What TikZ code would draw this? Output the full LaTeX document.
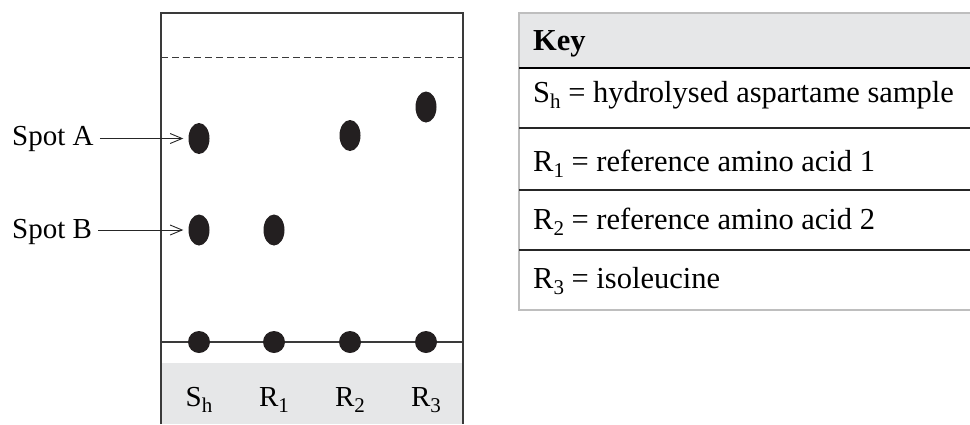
\documentclass[tikz,border=0pt]{standalone}
\usepackage{fontspec}
\setmainfont{Liberation Serif}
\usetikzlibrary{arrows.meta,shapes.geometric}
\definecolor{panelgray}{HTML}{E6E7E8}
\definecolor{platecol}{HTML}{3A3A3A}
\definecolor{spotcol}{HTML}{231F20}
\definecolor{keyborder}{HTML}{BEBEBE}
\newcommand\lowsub[1]{\raisebox{-6pt}{\fontsize{21}{21}\selectfont #1}}
\begin{document}
\begin{tikzpicture}[x=1pt,y=-1pt,
  every node/.style={font=\fontsize{29}{34}\selectfont},
  platebox/.style={draw=platecol,line width=1.6pt},
  spotdot/.style={ellipse,fill=spotcol,inner sep=0pt,minimum width=21pt,minimum height=31pt},
  basedot/.style={circle,fill=spotcol,inner sep=0pt,minimum size=22pt},
  lanelabel/.style={anchor=base,inner sep=0pt},
  spotlabel/.style={anchor=base west,inner sep=0pt},
  pointer/.style={draw=black!85,line width=0.9pt,-{Straight Barb[length=12pt,width=10pt,line width=0.9pt]},shorten <=6pt,shorten >=5pt},
  keytext/.style={anchor=base west,inner sep=0pt,font=\fontsize{30.5}{36}\selectfont},
  rowline/.style={draw=black!85,line width=1.2pt}]
\useasboundingbox (0,0) rectangle (970,424);
% plate
\fill[panelgray] (161,363) rectangle (463,424);
\draw[platebox] (161,424) -- (161,13) -- (463,13) -- (463,424);
\draw[platecol,line width=1.6pt,dash pattern=on 7pt off 4pt] (161,57.5) -- (463,57.5);
\draw[platecol,line width=1.3pt] (161,342) -- (463,342);
% baseline dots
\node[basedot] (b1) at (199,342) {};
\node[basedot] (b2) at (274,342) {};
\node[basedot] (b3) at (350,342) {};
\node[basedot] (b4) at (426,342) {};
% spots
\node[spotdot] (sA) at (199,138.5) {};
\node[spotdot] (sB) at (199,230) {};
\node[spotdot] (r1) at (274,230) {};
\node[spotdot] (r2) at (350,135.5) {};
\node[spotdot] (r3) at (426,107) {};
% lane labels
\node[lanelabel] (l1) at (199,406) {S\lowsub{h}};
\node[lanelabel] (l2) at (274,406) {R\lowsub{1}};
\node[lanelabel] (l3) at (350,406) {R\lowsub{2}};
\node[lanelabel] (l4) at (426,406) {R\lowsub{3}};
% spot labels
\node[spotlabel] (tA) at (12,145) {Spot A};
\node[spotlabel] (tB) at (12,238) {Spot B};
\draw[pointer] (tA.east |- sA) -- (sA.west);
\draw[pointer] (tB.east |- sB) -- (sB.west);
% key table
\fill[panelgray] (519,13) rectangle (970,68);
\draw[keyborder,line width=1.5pt] (970,13) -- (519,13) -- (519,310) -- (970,310);
\draw[black,line width=2.2pt] (519,68) -- (970,68);
\draw[rowline] (519,128) -- (970,128);
\draw[rowline] (519,190) -- (970,190);
\draw[rowline] (519,250) -- (970,250);
\node[keytext] (k0) at (533,50) {\textbf{Key}};
\node[keytext] (k1) at (533,102) {S\lowsub{h} = hydrolysed aspartame sample};
\node[keytext] (k2) at (533,171) {R\lowsub{1} = reference amino acid 1};
\node[keytext] (k3) at (533,229) {R\lowsub{2} = reference amino acid 2};
\node[keytext] (k4) at (533,288) {R\lowsub{3} = isoleucine};
\end{tikzpicture}
\end{document}
